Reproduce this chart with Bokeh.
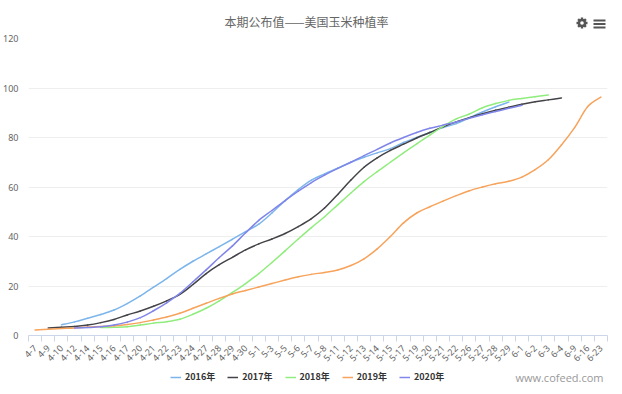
from bokeh.plotting import figure
from bokeh.embed import file_html
from bokeh.layouts import column
from bokeh.resources import INLINE
from bokeh.models import Range1d, FixedTicker, Label, Legend, LegendItem
import math

title_text = "本期公布值——美国玉米种植率"
watermark = "www.cofeed.com"
dates = ["4-7","4-9","4-10","4-12","4-14","4-15","4-16","4-17","4-20","4-21","4-22","4-23","4-24","4-27","4-28","4-29","4-30",
         "5-1","5-3","5-5","5-6","5-7","5-8","5-11","5-12","5-13","5-14","5-15","5-17","5-19","5-20","5-21","5-22","5-26","5-27","5-28","5-29",
         "6-1","6-2","6-3","6-4","6-9","6-16","6-23"]
y_ticks = [0, 20, 40, 60, 80, 100, 120]

start_2016 = 2
v_2016 = [4.3,5.5,7,8.5,10.3,12.9,16,19.5,23,26.7,30,33,35.9,38.9,42,45,49.5,54.5,59,62.8,65.3,67.6,70,72,73.8,75.5,78,80,82,84,85.6,88,90.3,92.4,94.3]
start_2017 = 1
v_2017 = [3,3.3,3.6,4.2,5.2,6.5,8.3,9.9,11.8,14,16.6,20.6,25,28.6,31.6,34.6,37,39,41.2,44,47.2,51.5,57,62.8,68,71.8,74.8,77.3,79.8,82,84.3,86.3,88,89.6,91,92.2,93.4,94.4,95.2,96]
start_2018 = 5
v_2018 = [3.2,3.3,3.5,4.2,5,5.6,6.6,8.6,11,14,17.4,21,25,29.5,34.2,39,43.6,48,52.8,57.6,62.2,66.2,70,73.8,77.4,81,84.5,87.5,89.5,92,93.7,95,95.8,96.5,97.2]
start_2019 = 0
v_2019 = [2.2,2.5,2.8,3,3.4,3.6,3.9,4.4,5.2,6.3,7.5,9,11,13,15,16.8,18.2,19.6,21,22.4,23.7,24.7,25.5,26.5,28.3,31,35,40,45.5,49.5,52,54.3,56.5,58.5,60,61.3,62.3,64,67,71,77,84,92.5,96.3]
start_2020 = 3
v_2020 = [3,3.2,3.5,4.2,5.4,7.2,10,13.2,17,21.7,26.5,31.5,36.2,41.5,46.5,50.5,54.5,58.3,61.8,64.8,67.5,70,72.7,75.2,77.8,80,82,83.7,85,86.3,87.8,89.2,90.5,91.8,93]

series = [("2016年", start_2016, v_2016, "#7cb5ec"),
          ("2017年", start_2017, v_2017, "#434348"),
          ("2018年", start_2018, v_2018, "#90ed7d"),
          ("2019年", start_2019, v_2019, "#f7a35c"),
          ("2020年", start_2020, v_2020, "#8085e9")]

W = 614
TOP_H, BOTTOM_START, BOTTOM_H = 31, 367, 19
FL, FT, FB = 28, 38, 335


def strip(y0, y1):
    """Axis-less band of the page whose data coordinates are page pixels."""
    s = figure(width=W, height=y1 - y0, output_backend="svg", toolbar_location=None,
               x_range=Range1d(0, W), y_range=Range1d(y1, y0),
               x_axis_type=None, y_axis_type=None, frame_align=False,
               min_border_left=0, min_border_right=0, min_border_top=0, min_border_bottom=0)
    s.outline_line_color = None
    s.grid.visible = False
    return s


top = strip(0, TOP_H)
top.add_layout(Label(x=306, y=21, text=title_text, text_align="center", text_baseline="middle",
                     text_font="Noto Sans CJK SC", text_font_size="12px", text_color="#666666"))
# settings icon: hub, eight teeth, hole
gx, gy = 581.5, 22.5
for ang in (0, math.pi / 4, math.pi / 2, 3 * math.pi / 4):
    dx, dy = 5.5 * math.cos(ang), 5.5 * math.sin(ang)
    top.segment([gx - dx], [gy - dy], [gx + dx], [gy + dy], line_color="#555555", line_width=2.4)
top.scatter([gx], [gy], marker="circle", size=8.5, fill_color="#555555", line_color=None)
top.scatter([gx], [gy], marker="circle", size=3.6, fill_color="white", line_color=None)
top.quad(left=[593] * 3, right=[605] * 3, top=[19, 22.5, 26], bottom=[21, 24.5, 28],
         fill_color="#555555", line_color=None)

p = figure(width=W, height=BOTTOM_START - TOP_H, output_backend="svg", toolbar_location=None,
           x_range=Range1d(-0.5, len(dates) - 0.5), y_range=Range1d(0, 120), frame_align=False,
           min_border_left=FL, min_border_right=7, min_border_top=FT - TOP_H,
           min_border_bottom=BOTTOM_START - FB)
p.outline_line_color = None
p.background_fill_color = "white"
p.border_fill_color = "white"

p.xaxis.ticker = FixedTicker(ticks=list(range(len(dates))), minor_ticks=[i - 0.5 for i in range(len(dates) + 1)])
p.xaxis.major_label_overrides = {i: d for i, d in enumerate(dates)}
p.xaxis.major_label_orientation = math.pi / 4
p.xaxis.major_label_text_font = "Noto Sans"
p.xaxis.major_label_text_font_size = "9px"
p.xaxis.major_label_text_color = "#666666"
p.xaxis.major_label_standoff = 5
p.xaxis.major_tick_line_color = None
p.xaxis.minor_tick_in = 0
p.xaxis.minor_tick_out = 6
p.xaxis.minor_tick_line_color = "#ccd6eb"
p.xaxis.axis_line_color = "#ccd6eb"
p.xgrid.grid_line_color = None

p.yaxis.ticker = FixedTicker(ticks=y_ticks)
p.yaxis.axis_line_color = None
p.yaxis.major_tick_line_color = None
p.yaxis.minor_tick_line_color = None
p.yaxis.major_label_text_font = "Noto Sans"
p.yaxis.major_label_text_font_size = "9px"
p.yaxis.major_label_text_color = "#666666"
p.yaxis.major_label_standoff = 4
p.ygrid.grid_line_color = "#eeeeee"
p.ygrid.grid_line_width = 1


def spline(start, vals):
    xs = list(range(start, start + len(vals)))
    n = len(vals)
    out = dict(x0=[], y0=[], x1=[], y1=[], cx0=[], cy0=[], cx1=[], cy1=[])
    for i in range(n - 1):
        a, b = max(i - 1, 0), min(i + 2, n - 1)
        out["x0"].append(xs[i]); out["y0"].append(vals[i])
        out["x1"].append(xs[i + 1]); out["y1"].append(vals[i + 1])
        out["cx0"].append(xs[i] + (xs[i + 1] - xs[a]) / 6)
        out["cy0"].append(vals[i] + (vals[i + 1] - vals[a]) / 6)
        out["cx1"].append(xs[i + 1] - (xs[b] - xs[i]) / 6)
        out["cy1"].append(vals[i + 1] - (vals[b] - vals[i]) / 6)
    return out


for name, start, vals, col in series:
    p.bezier(line_color=col, line_width=1.5, line_cap="round", **spline(start, vals))

bottom = strip(BOTTOM_START, BOTTOM_START + BOTTOM_H)
items = []
for name, start, vals, col in series:
    # legend key only: the values lie outside this band's range, so only the key shows
    r = bottom.line(list(range(start, start + len(vals))), [-v for v in vals], line_color=col, line_width=1.5)
    items.append(LegendItem(label=name, renderers=[r]))
leg = Legend(items=items, orientation="horizontal", location=(170, 3),
             glyph_width=11, glyph_height=8, label_standoff=4, spacing=12, padding=0, margin=0,
             border_line_color=None, background_fill_alpha=0,
             label_text_font="Noto Sans CJK SC", label_text_font_size="9px",
             label_text_font_style="bold", label_text_color="#333333")
bottom.add_layout(leg, "center")
bottom.add_layout(Label(x=603, y=377, text=watermark, text_align="right", text_baseline="middle",
                        text_font="Open Sans", text_font_size="11px", text_color="#999999"))

page = column(top, p, bottom, spacing=0)
open("out.html", "w").write(file_html(page, INLINE))
